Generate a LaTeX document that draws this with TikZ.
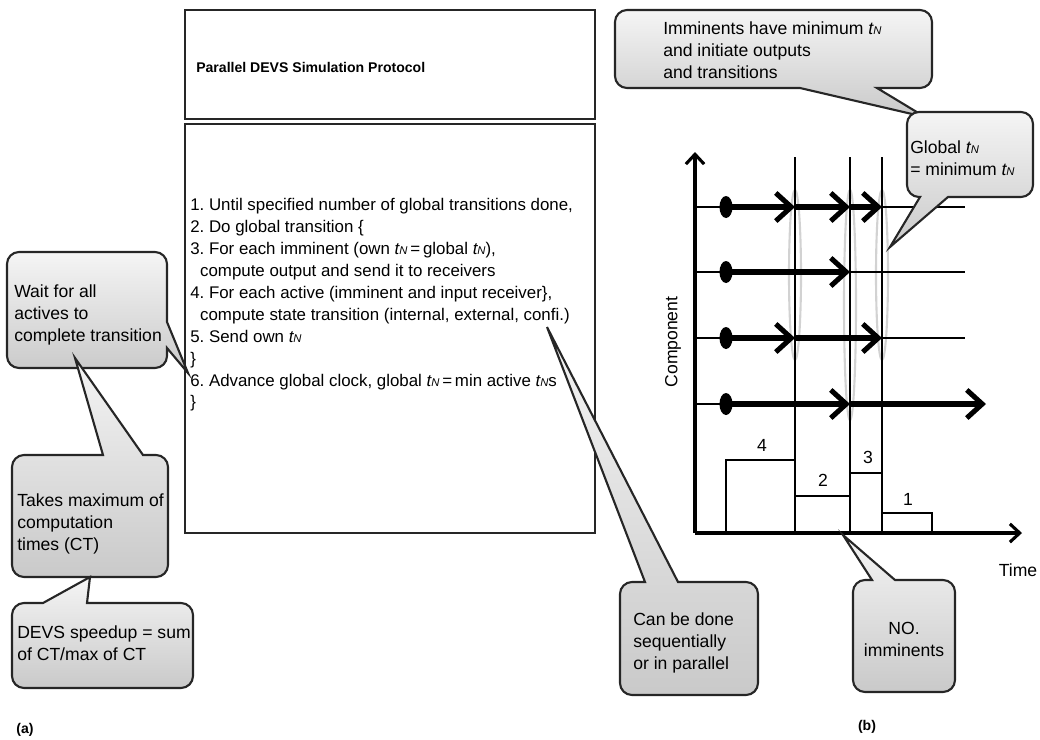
\documentclass[tikz,border=0pt]{standalone}
\usepackage{fontspec}
\setmainfont{Liberation Sans}
\usetikzlibrary{arrows.meta}
\definecolor{ring}{HTML}{D2D2D2}
\newcommand{\tN}{\textit{t{\footnotesize N}}}
\frenchspacing

\begin{document}
\begin{tikzpicture}[x=0.025cm,y=-0.025cm,
  bubble/.style={top color=gray!8,bottom color=gray!42,draw=black!85,line width=1.5pt},
  boxline/.style={draw=black!85,line width=2pt},
  ax/.style={line width=2.2pt,-{Straight Barb[length=7pt,width=13pt]}},
  lane/.style={line width=1.4pt},
  hop/.style={line width=3.6pt,-{Straight Barb[length=11pt,width=20pt]}},
  colbar/.style={line width=1.6pt},
  txt/.style={font=\fontsize{12.5}{15.8}\selectfont,inner sep=0pt,align=left}]
  \useasboundingbox (0,0) rectangle (1040,739);
  \draw[boxline] (185,10) rectangle (595,119);
  \node[anchor=west,inner sep=0pt,font=\bfseries\fontsize{10}{12}\selectfont] (title) at (196,67) {Parallel DEVS Simulation Protocol};
  \draw[boxline] (185,124) rectangle (595,533);
  \node[anchor=north west,inner sep=0pt,align=left,font=\fontsize{12}{15.6}\selectfont] (steps) at (190,198)
    {1. Until specified number of global transitions done,\\
     2. Do global transition \{\\
     3. For each imminent (own \tN\,=\,global \tN),\\
     \hspace{7pt}compute output and send it to receivers\\
     4. For each active (imminent and input receiver\},\\
     \hspace{7pt}compute state transition (internal, external, confi.)\\
     5. Send own \tN\\
     \}\\
     6. Advance global clock, global \tN\,=\,min active \tN s\\
     \}};
  \draw[bubble] (19,252) -- (155,252) arc[start angle=270,end angle=360,radius=12] -- (167,322) -- (188,373) -- (167,348) -- (167,356) arc[start angle=0,end angle=90,radius=12]
    -- (19,368) arc[start angle=90,end angle=180,radius=12] -- (7,264) arc[start angle=180,end angle=270,radius=12] -- cycle;
  \node[txt,anchor=north west] (wait) at (14,284) {Wait for all\\actives to\\complete transition};
  \draw[bubble] (24,455) -- (103,455) -- (75,358) -- (143,455) -- (156,455) arc[start angle=270,end angle=360,radius=12] -- (168,565) arc[start angle=0,end angle=90,radius=12]
    -- (24,577) arc[start angle=90,end angle=180,radius=12] -- (12,467) arc[start angle=180,end angle=270,radius=12] -- cycle;
  \node[txt,anchor=north west] (takes) at (17,493) {Takes maximum of\\computation\\times (CT)};
  \draw[bubble] (24,603) -- (43,603) -- (90,577) -- (87,603) -- (181,603) arc[start angle=270,end angle=360,radius=12] -- (193,676) arc[start angle=0,end angle=90,radius=12]
    -- (24,688) arc[start angle=90,end angle=180,radius=12] -- (12,615) arc[start angle=180,end angle=270,radius=12] -- cycle;
  \node[txt,anchor=north west] (speedup) at (17,625) {DEVS speedup = sum\\of CT/max of CT};
  \node[font=\bfseries\fontsize{10}{12}\selectfont] (pa) at (25,730) {(a)};
  \draw[ring,line width=1.5pt] (795,275) ellipse [x radius=6,y radius=85];
  \draw[ring,line width=1.5pt] (850,305) ellipse [x radius=6,y radius=115];
  \draw[ring,line width=1.5pt] (882,275) ellipse [x radius=6,y radius=85];
  \coordinate (O) at (695,533);
  \draw[ax] (O) -- (695,152);
  \draw[ax] (O) -- (1022,533);
  \foreach \x in {795,850,882} \draw[lane] (\x,157) -- (\x,533);
  \foreach \y in {207,272,338} \draw[lane] (695,\y) -- (965,\y);
  \draw[lane] (695,404) -- (726,404);
  \draw[hop] (726,207) -- (795,207);
  \draw[hop] (795,207) -- (850,207);
  \draw[hop] (850,207) -- (882,207);
  \draw[hop] (726,272) -- (850,272);
  \draw[hop] (726,338) -- (795,338);
  \draw[hop] (795,338) -- (882,338);
  \draw[hop] (726,404) -- (850,404);
  \draw[hop] (850,404) -- (986,404);
  \foreach \y in {207,272,338,404} \fill (726,\y) ellipse [x radius=6.5,y radius=11];
  \draw[colbar] (726,533) rectangle (795,460);
  \draw[colbar] (795,533) rectangle (850,496);
  \draw[colbar] (850,533) rectangle (882,473);
  \draw[colbar] (882,533) rectangle (932,513);
  \node[txt] (n4) at (762,445) {4};
  \node[txt] (n2) at (823,480) {2};
  \node[txt] (n3) at (868,457) {3};
  \node[txt] (n1) at (908,499) {1};
  \node[txt,rotate=90] (comp) at (673,342) {Component};
  \node[txt] (time) at (1018,570) {Time};
  \draw[bubble] (627,10) -- (920,10) arc[start angle=270,end angle=360,radius=12] -- (932,76) arc[start angle=0,end angle=90,radius=12] -- (877,88) -- (925,117) -- (800,88)
    -- (627,88) arc[start angle=90,end angle=180,radius=12] -- (615,22) arc[start angle=180,end angle=270,radius=12] -- cycle;
  \node[txt,anchor=north west] (imm) at (663,21) {Imminents have minimum \tN\\and initiate outputs\\and transitions};
  \draw[bubble] (919,112) -- (1021,112) arc[start angle=270,end angle=360,radius=12] -- (1033,185) arc[start angle=0,end angle=90,radius=12] -- (948,197) -- (890,247) -- (920,197)
    -- (919,197) arc[start angle=90,end angle=180,radius=12] -- (907,124) arc[start angle=180,end angle=270,radius=12] -- cycle;
  \node[txt,anchor=north west] (glob) at (910,140) {Global \tN\\= minimum \tN};
  \draw[bubble] (632,582) -- (645,582) -- (547,327) -- (678,582) -- (746,582) arc[start angle=270,end angle=360,radius=12] -- (758,683) arc[start angle=0,end angle=90,radius=12]
    -- (632,695) arc[start angle=90,end angle=180,radius=12] -- (620,594) arc[start angle=180,end angle=270,radius=12] -- cycle;
  \node[txt,anchor=north west] (seq) at (633,612) {Can be done\\sequentially\\or in parallel};
  \draw[bubble] (865,580) -- (872,580) -- (843,535) -- (895,580) -- (943,580) arc[start angle=270,end angle=360,radius=12] -- (955,680) arc[start angle=0,end angle=90,radius=12]
    -- (865,692) arc[start angle=90,end angle=180,radius=12] -- (853,592) arc[start angle=180,end angle=270,radius=12] -- cycle;
  \node[txt,anchor=north,align=center] (noimm) at (904,622) {NO.\\imminents};
  \node[font=\bfseries\fontsize{10}{12}\selectfont] (pb) at (867,727) {(b)};
\end{tikzpicture}
\end{document}
